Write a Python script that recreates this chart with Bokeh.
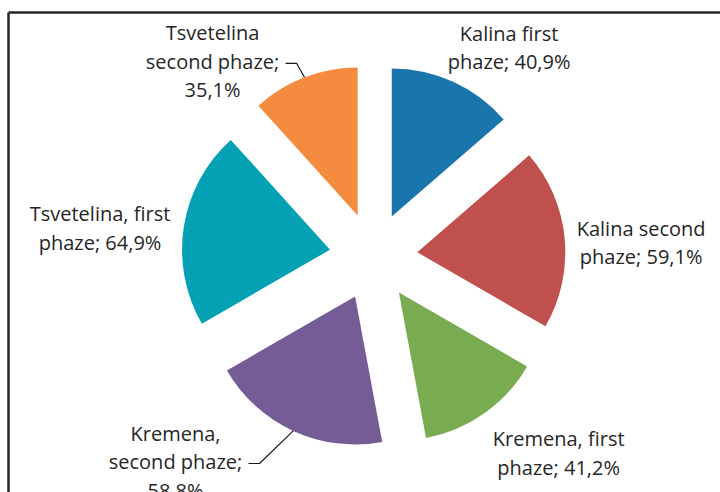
import numpy as np
from bokeh.plotting import figure
from bokeh.models import Range1d
from bokeh.core.properties import value
from bokeh.embed import file_html
from bokeh.resources import INLINE

# ---- data ----
categories = ["Kalina first phaze", "Kalina second phaze", "Kremena, first phaze",
              "Kremena, second phaze", "Tsvetelina, first phaze", "Tsvetelina second phaze"]
values = [40.9, 59.1, 41.2, 58.8, 64.9, 35.1]
label_names = ["Kalina first\nphaze", "Kalina second\nphaze", "Kremena, first\nphaze",
               "Kremena,\nsecond phaze", "Tsvetelina, first\nphaze", "Tsvetelina\nsecond phaze"]
value_sep = [" ", " ", " ", "\n", " ", "\n"]
colors = ["#1b75ad", "#c0504d", "#79ab51", "#765c97", "#04a0b3", "#f58b3f"]

# ---- layout ----
W, H = 720, 492
CX, CY = 373, H - 256          # pie centre (data units == pixels)
R = 148                        # pie radius
EXPLODE = 44                   # explode distance
label_r = [249, 268, 270, 285, 275, 253]
label_theta = [33, 87, 136.7, 224, 276, 320.5]   # degrees clockwise from top
LINE_H = 28.5
leader = [False, False, False, True, False, True]
TEXT_COLOR = "#262626"
FONT = "Open Sans"

p = figure(width=W, height=H, output_backend="svg", toolbar_location=None,
           x_range=Range1d(0, W), y_range=Range1d(0, H), min_border=0,
           outline_line_color=None, background_fill_color="white",
           border_fill_color="white")
p.axis.visible = False
p.grid.visible = False

vals = np.array(values, dtype=float)
ang = vals / vals.sum() * 360.0
a1 = np.cumsum(ang)
a0 = a1 - ang
mid = (a0 + a1) / 2.0
mid_r = np.radians(mid)

ex = CX + EXPLODE * np.sin(mid_r)
ey = CY + EXPLODE * np.cos(mid_r)

p.wedge(x=ex, y=ey, radius=R,
        start_angle=np.radians(90 - a1), end_angle=np.radians(90 - a0),
        direction="anticlock", fill_color=colors, line_color=None)

# frame (chart area border)
p.segment(x0=[8, 8], y0=[H - 12, H - 12], x1=[8, W + 5], y1=[-5, H - 12],
          line_color="#262626", line_width=2.5)

# labels
def fmt(v):
    return ("%.1f" % v).replace(".", ",") + "%"

xs, ys, ts = [], [], []
for i, name in enumerate(label_names):
    lab = name + ";" + value_sep[i] + fmt(values[i])
    lines = lab.split("\n")
    t = np.radians(label_theta[i])
    lx = CX + label_r[i] * np.sin(t)
    ly = CY + label_r[i] * np.cos(t)
    n = len(lines)
    for k, line in enumerate(lines):
        xs.append(lx)
        ys.append(ly + ((n - 1) / 2.0 - k) * LINE_H)
        ts.append(line)
    if leader[i]:
        # arc midpoint of exploded slice
        axp = ex[i] + R * np.sin(mid_r[i])
        ayp = ey[i] + R * np.cos(mid_r[i])
        p.line(x=[lx + 73, lx + 84, axp], y=[ly - 2, ly - 2, ayp],
               line_color="#1a1a1a", line_width=1.2)

p.text(x=xs, y=ys, text=ts, text_align="center", text_baseline="middle",
       text_font=value(FONT), text_font_size="20px", text_color=TEXT_COLOR)

open("out.html", "w").write(file_html(p, INLINE))
